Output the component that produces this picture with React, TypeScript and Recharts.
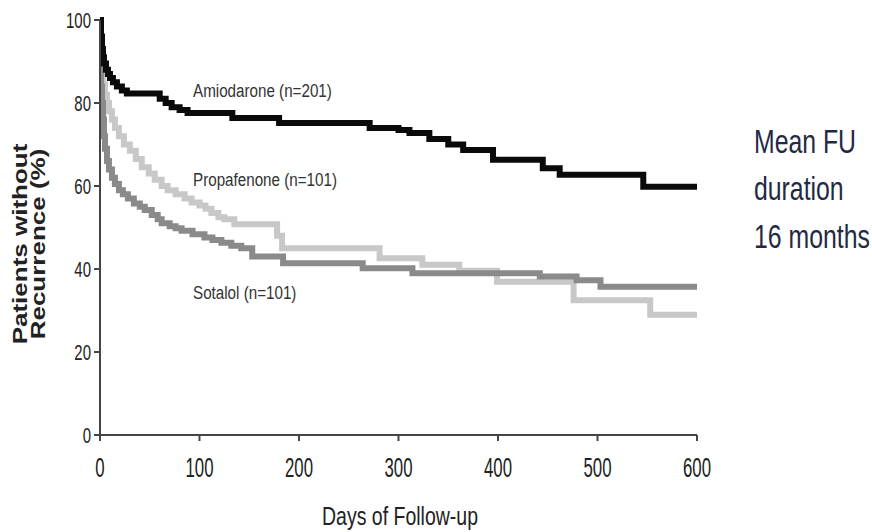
import React from 'react';
import { LineChart, Line, XAxis, YAxis } from 'recharts';

// Kaplan-Meier style curves (day -> % without recurrence)
const amioDays = [0, 1, 2, 3, 4, 6, 8, 10, 13, 17, 22, 27, 60, 66, 72, 80, 88, 133, 180, 271, 300, 311, 331, 350, 365, 395, 445, 462, 546, 600];
const amioValues = [100, 96, 93, 91, 89.5, 88, 87, 86, 85, 84, 83, 82.3, 81, 80, 79, 78.3, 77.6, 76.4, 75.2, 74, 73.5, 72.8, 71.3, 70, 68.7, 66.3, 64.3, 62.7, 59.8, 59.8];

const propaDays = [0, 1, 2, 3, 5, 7, 9, 12, 15, 19, 24, 30, 36, 42, 49, 55, 62, 68, 76, 85, 92, 100, 106, 112, 119, 125, 135, 178, 183, 281, 324, 361, 399, 476, 553, 600];
const propaValues = [100, 90, 87, 84.5, 82, 80, 78, 76, 74, 72, 70, 68.5, 66.5, 64.5, 63, 61.5, 60, 59, 58, 57, 56, 55.3, 54.5, 53.5, 52.5, 52, 50.8, 48, 45, 42.6, 41, 39.6, 36.9, 32.5, 29, 29];

const sotaDays = [0, 1, 2, 3, 4, 5, 7, 9, 12, 15, 19, 23, 28, 34, 40, 45, 52, 58, 62, 70, 76, 82, 93, 105, 113, 122, 132, 142, 153, 184, 264, 314, 442, 479, 503, 600];
const sotaValues = [100, 84, 80, 76, 72, 69, 66, 64, 62, 60.5, 59, 58, 57, 55.8, 55, 54.2, 53, 52, 51, 50.3, 49.8, 49.2, 48.4, 47.6, 47, 46.3, 45.6, 45, 43, 41.4, 40.2, 39, 38.2, 37.3, 35.7, 35.7];

const xTicks = [0, 100, 200, 300, 400, 500, 600];
const yTicks = [0, 20, 40, 60, 80, 100];

const toPoints = (days: number[], values: number[]) => days.map((d, i) => ({ d, v: values[i] }));

const FONT = '"Liberation Sans", Arial, sans-serif';

const XTick = ({ x, y, payload }: any) => (
  <text transform={`translate(${x},${y + 34}) scale(0.6,1)`} textAnchor="middle" fontSize={28} fontFamily={FONT} fill="#222">
    {payload.value}
  </text>
);

const YTick = ({ x, y, payload }: any) => (
  <text transform={`translate(${x - 1},${y + 8}) scale(0.68,1)`} textAnchor="end" fontSize={22} fontFamily={FONT} fill="#222">
    {payload.value}
  </text>
);

const App = () => {
  const amio = toPoints(amioDays, amioValues);
  const propa = toPoints(propaDays, propaValues);
  const sota = toPoints(sotaDays, sotaValues);

  return (
    <div style={{ position: 'absolute', left: 0, top: 0, width: 872, height: 532, background: '#fff' }}>
      <LineChart width={872} height={532} margin={{ top: 20, right: 175, bottom: 57, left: 0 }}>
        <XAxis
          type="number"
          dataKey="d"
          domain={[0, 600]}
          ticks={xTicks}
          height={40}
          tickSize={6}
          axisLine={{ stroke: '#444', strokeWidth: 2 }}
          tickLine={{ stroke: '#444', strokeWidth: 2 }}
          tick={<XTick />}
          allowDataOverflow
        />
        <YAxis
          type="number"
          dataKey="v"
          domain={[0, 100]}
          ticks={yTicks}
          width={100}
          tickSize={6}
          axisLine={{ stroke: '#444', strokeWidth: 2 }}
          tickLine={{ stroke: '#444', strokeWidth: 2 }}
          tick={<YTick />}
        />
        <Line data={propa} dataKey="v" type="stepAfter" stroke="#c8c8c8" strokeWidth={6} dot={false} isAnimationActive={false} />
        <Line data={sota} dataKey="v" type="stepAfter" stroke="#8a8a8a" strokeWidth={6} dot={false} isAnimationActive={false} />
        <Line data={amio} dataKey="v" type="stepAfter" stroke="#0a0a0a" strokeWidth={6} dot={false} isAnimationActive={false} />
      </LineChart>

      <svg width={872} height={532} style={{ position: 'absolute', left: 0, top: 0, pointerEvents: 'none' }} fontFamily={FONT}>
        <text transform="translate(193,97) scale(0.8,1)" fontSize={19} fill="#333">Amiodarone (n=201)</text>
        <text transform="translate(193,186) scale(0.8,1)" fontSize={19} fill="#333">Propafenone (n=101)</text>
        <text transform="translate(193,299) scale(0.8,1)" fontSize={19} fill="#333">Sotalol (n=101)</text>

        <text transform="translate(400,525) scale(0.78,1)" textAnchor="middle" fontSize={25} fill="#222">Days of Follow-up</text>

        <text transform="translate(27,244) rotate(-90) scale(1,0.8)" textAnchor="middle" fontSize={26} fontWeight="bold" fill="#222">Patients without</text>
        <text transform="translate(45,244) rotate(-90) scale(1,0.8)" textAnchor="middle" fontSize={26} fontWeight="bold" fill="#222">Recurrence (%)</text>

        <g fill="#1f2a44" fontSize={34}>
          <text transform="translate(754,153) scale(0.73,1)">Mean FU</text>
          <text transform="translate(754,200) scale(0.73,1)">duration</text>
          <text transform="translate(754,248) scale(0.73,1)">16 months</text>
        </g>
      </svg>
    </div>
  );
};

export default App;
